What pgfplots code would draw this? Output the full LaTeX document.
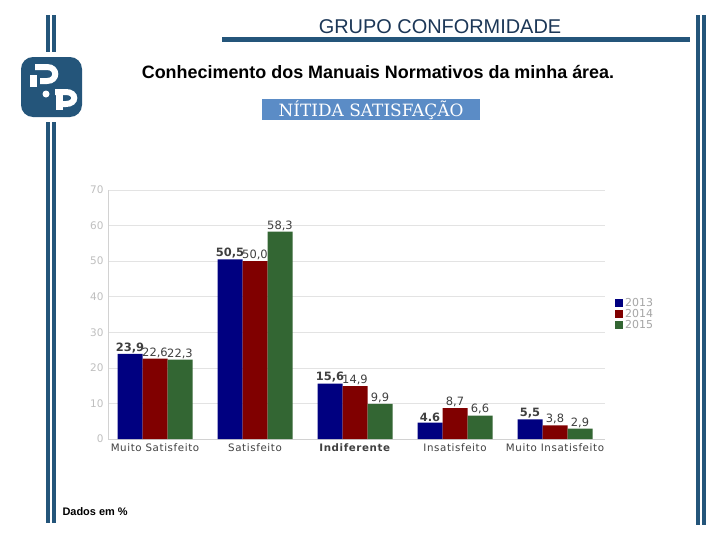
\documentclass[border=0pt]{standalone}
\usepackage{pgfplots}
\pgfplotsset{compat=1.18}
\usepackage{fontspec}
\setmainfont{DejaVu Sans}
\newfontfamily\arial{Liberation Sans}
\newfontfamily\serifb{DejaVu Serif}
\newfontfamily\spaced{DejaVu Sans}[LetterSpace=6]
\definecolor{deco}{HTML}{24557A}
\definecolor{titleblue}{HTML}{1C3757}
\definecolor{boxblue}{HTML}{5B8CC6}
\definecolor{c13}{HTML}{000080}
\definecolor{c14}{HTML}{800000}
\definecolor{c15}{HTML}{336633}
\pgfplotstableread{
x y l
0 23.9 23,9
1 50.5 50,5
2 15.6 15,6
3 4.6 4.6
4 5.5 5,5
}\tabA
\pgfplotstableread{
x y l
0 22.6 22,6
1 50.0 50,0
2 14.9 14,9
3 8.7 8,7
4 3.8 3,8
}\tabB
\pgfplotstableread{
x y l
0 22.3 22,3
1 58.3 58,3
2 9.9 9,9
3 6.6 6,6
4 2.9 2,9
}\tabC
\begin{document}
\begin{tikzpicture}
\path[use as bounding box, fill=white] (0,0) rectangle (720bp,-540bp);
\begin{scope}[x=1bp,y=-1bp]
% decorative lines
\fill[deco] (46,15) rectangle (49.5,52);
\fill[deco] (52,15) rectangle (55.5,52);
\fill[deco] (46,122) rectangle (49.5,523);
\fill[deco] (52,122) rectangle (55.5,523);
\fill[deco] (696,15) rectangle (699.5,525);
\fill[deco] (702,15) rectangle (705.5,525);
\fill[deco] (222,37) rectangle (690,42);
% logo
\fill[deco, rounded corners=12bp] (21,57) rectangle (82,117);
\draw[white, line width=6bp] (35,67) -- (47,67) .. controls (58,67) and (58,81) .. (47,81) -- (40,81);
\fill[white] (30,75) rectangle (37,87);
\fill[white] (46,94) circle (3.5bp);
\draw[white, line width=6bp] (55,92) -- (66,92) .. controls (77,92) and (77,104) .. (66,104) -- (59,104);
\draw[white, line width=6.5bp] (59.5,92) -- (59.5,110);
% texts
\node[font=\arial\fontsize{20}{21}\selectfont, text=titleblue] at (440,27) {GRUPO CONFORMIDADE};
\node[font=\arial\bfseries\fontsize{18}{19}\selectfont] at (378,72) {Conhecimento dos Manuais Normativos da minha área.};
\fill[boxblue] (262,99) rectangle (480,120);
\node[text=white, font=\serifb\fontsize{17}{18}\selectfont] at (371,110) {NÍTIDA SATISFAÇÃO};
\node[anchor=west, font=\arial\bfseries\fontsize{11}{12}\selectfont] at (59,512) {Dados em \%};
\end{scope}
\begin{axis}[
  at={(108bp,-439bp)}, anchor=south west,
  scale only axis, width=497bp, height=249bp,
  xmin=-0.47, xmax=4.5, ymin=0, ymax=70,
  ytick={0,10,...,70}, xtick={0,...,4},
  xticklabels={Muito Satisfeito, Satisfeito, \textbf{Indiferente}, Insatisfeito, Muito Insatisfeito},
  axis x line*=bottom, axis y line*=left,
  axis line style={draw=gray!35, -},
  major tick length=0pt,
  /pgf/number format/assume math mode=true,
  ymajorgrids, grid style={gray!22, line width=0.6pt},
  yticklabel style={font=\fontsize{10.5}{11}\selectfont, text=gray!50, xshift=-1bp},
  xticklabel style={font=\spaced\fontsize{10.3}{11}\selectfont, text=black!75, yshift=-1bp},
  ybar, bar width=25bp,
  nodes near coords, point meta=explicit symbolic,
  nodes near coords style={font=\fontsize{11.5}{12}\selectfont, text=black!75, inner sep=1bp, anchor=south},
  legend style={at={(1.02,0.575)}, anchor=north west, draw=none, fill=none,
     font=\fontsize{11}{11}\selectfont, text=gray!70, inner sep=0pt, row sep=-2.5bp,
     cells={anchor=west}},
  sq/.style={legend image code/.code={\fill[##1, draw=none] (0bp,-4bp) rectangle (8bp,4bp);}},
]
\addplot[fill=c13, draw=none, bar shift=-25bp, sq, every node near coord/.append style={font=\bfseries\fontsize{11.5}{12}\selectfont}] table[x=x,y=y,meta=l] {\tabA};
\addplot[fill=c14, draw=none, bar shift=0bp, sq] table[x=x,y=y,meta=l] {\tabB};
\addplot[fill=c15, draw=none, bar shift=25bp, sq] table[x=x,y=y,meta=l] {\tabC};
\legend{2013,2014,2015}
\end{axis}
\end{tikzpicture}
\end{document}
